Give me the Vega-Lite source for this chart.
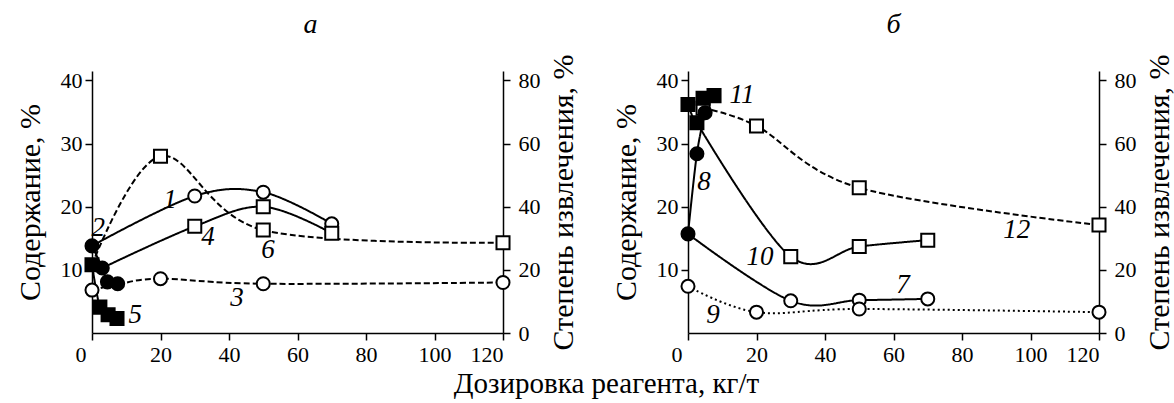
{
  "$schema": "https://vega.github.io/schema/vega-lite/v6.json",
  "padding": {"left": 15, "top": 10, "right": 0, "bottom": 0},
  "background": "white",
  "config": {
    "view": {"stroke": null},
    "font": "Liberation Serif",
    "axis": {"domainColor": "black", "domainWidth": 1.5, "tickColor": "black", "tickWidth": 1.5, "tickSize": 7, "labelColor": "black", "labelFont": "Liberation Serif", "labelFontSize": 22, "titleFont": "Liberation Serif", "titleFontSize": 30, "titleFontWeight": "normal", "titleColor": "black", "grid": false}
  },
  "title": {"text": "Дозировка реагента, кг/т", "orient": "bottom", "anchor": "middle", "font": "Liberation Serif", "fontSize": 29, "fontWeight": "normal", "color": "black", "offset": 5, "dx": 12},
  "datasets": {
    "curves": [
      {"panel": "а", "s": "1", "x": 0, "y": 13.8, "m": 0},
      {"panel": "а", "s": "1", "x": 30, "y": 21.7, "m": 1},
      {"panel": "а", "s": "1", "x": 50, "y": 22.3, "m": 1},
      {"panel": "а", "s": "1", "x": 70, "y": 17.3, "m": 1},
      {"panel": "а", "s": "3", "x": 0, "y": 6.8, "m": 1},
      {"panel": "а", "s": "3", "x": 7.5, "y": 7.7, "m": 0},
      {"panel": "а", "s": "3", "x": 20, "y": 8.6, "m": 1},
      {"panel": "а", "s": "3", "x": 50, "y": 7.8, "m": 1},
      {"panel": "а", "s": "3", "x": 120, "y": 8.0, "m": 1},
      {"panel": "а", "s": "4", "x": 3, "y": 10.3, "m": 0},
      {"panel": "а", "s": "4", "x": 30, "y": 16.9, "m": 1},
      {"panel": "а", "s": "4", "x": 50, "y": 20.0, "m": 1},
      {"panel": "а", "s": "4", "x": 70, "y": 15.8, "m": 1},
      {"panel": "а", "s": "6", "x": 0, "y": 10.8, "m": 0},
      {"panel": "а", "s": "6", "x": 20, "y": 28.0, "m": 1},
      {"panel": "а", "s": "6", "x": 50, "y": 16.3, "m": 1},
      {"panel": "а", "s": "6", "x": 120, "y": 14.3, "m": 1},
      {"panel": "а", "s": "2", "x": 0, "y": 13.8, "m": 1},
      {"panel": "а", "s": "2", "x": 3, "y": 10.3, "m": 1},
      {"panel": "а", "s": "2", "x": 4.5, "y": 8.1, "m": 1},
      {"panel": "а", "s": "2", "x": 7.5, "y": 7.8, "m": 1},
      {"panel": "а", "s": "5", "x": 0, "y": 10.8, "m": 1},
      {"panel": "а", "s": "5", "x": 2.3, "y": 4.1, "m": 1},
      {"panel": "а", "s": "5", "x": 4.7, "y": 2.9, "m": 1},
      {"panel": "а", "s": "5", "x": 7.3, "y": 2.3, "m": 1},
      {"panel": "б", "s": "7", "x": 0, "y": 15.7, "m": 0},
      {"panel": "б", "s": "7", "x": 30, "y": 5.1, "m": 1},
      {"panel": "б", "s": "7", "x": 50, "y": 5.2, "m": 1},
      {"panel": "б", "s": "7", "x": 70, "y": 5.4, "m": 1},
      {"panel": "б", "s": "9", "x": 0, "y": 7.4, "m": 1},
      {"panel": "б", "s": "9", "x": 20, "y": 3.3, "m": 1},
      {"panel": "б", "s": "9", "x": 50, "y": 3.8, "m": 1},
      {"panel": "б", "s": "9", "x": 120, "y": 3.3, "m": 1},
      {"panel": "б", "s": "10", "x": 2.6, "y": 33.3, "m": 0},
      {"panel": "б", "s": "10", "x": 30, "y": 12.1, "m": 1},
      {"panel": "б", "s": "10", "x": 50, "y": 13.7, "m": 1},
      {"panel": "б", "s": "10", "x": 70, "y": 14.7, "m": 1},
      {"panel": "б", "s": "12", "x": 4.4, "y": 35.6, "m": 1},
      {"panel": "б", "s": "12", "x": 20, "y": 32.8, "m": 1},
      {"panel": "б", "s": "12", "x": 50, "y": 23.0, "m": 1},
      {"panel": "б", "s": "12", "x": 120, "y": 17.1, "m": 1},
      {"panel": "б", "s": "8", "x": 0, "y": 15.7, "m": 1},
      {"panel": "б", "s": "8", "x": 2.6, "y": 28.4, "m": 1},
      {"panel": "б", "s": "8", "x": 5, "y": 34.9, "m": 1},
      {"panel": "б", "s": "11", "x": 0, "y": 36.2, "m": 1},
      {"panel": "б", "s": "11", "x": 2.6, "y": 33.3, "m": 1},
      {"panel": "б", "s": "11", "x": 4.4, "y": 37.2, "m": 1},
      {"panel": "б", "s": "11", "x": 7.6, "y": 37.6, "m": 1}
    ],
    "labels": [
      {"panel": "а", "lab": "1", "x": 22.8, "y": 21.1},
      {"panel": "а", "lab": "2", "x": 1.8, "y": 16.6},
      {"panel": "а", "lab": "4", "x": 33.9, "y": 15.2},
      {"panel": "а", "lab": "6", "x": 51.4, "y": 13.2},
      {"panel": "а", "lab": "3", "x": 42.3, "y": 5.5},
      {"panel": "а", "lab": "5", "x": 12.6, "y": 2.9},
      {"panel": "б", "lab": "11", "x": 15.8, "y": 37.7},
      {"panel": "б", "lab": "8", "x": 4.7, "y": 23.9},
      {"panel": "б", "lab": "10", "x": 21, "y": 12.0},
      {"panel": "б", "lab": "12", "x": 96, "y": 16.3},
      {"panel": "б", "lab": "7", "x": 62.8, "y": 7.6},
      {"panel": "б", "lab": "9", "x": 7.3, "y": 2.9}
    ]
  },
  "spacing": 33,
  "hconcat": [
    {
      "width": 411, "height": 262,
      "title": {"text": "а", "font": "Liberation Serif", "fontStyle": "italic", "fontSize": 28, "fontWeight": "normal", "color": "black", "offset": 15, "dx": 13},
      "layer": [
        {
          "layer": [
            {
              "data": {"name": "curves"},
              "transform": [{"filter": "datum.panel === 'а'"}],
              "mark": {"type": "line", "interpolate": "cardinal", "color": "black", "strokeWidth": 2, "clip": false},
              "encoding": {
                "x": {"field": "x", "type": "quantitative", "scale": {"domain": [0, 120], "nice": false, "zero": false}, "axis": {"title": null, "values": [0, 20, 40, 60, 80, 100, 120], "labelPadding": 4, "labelOffset": {"condition": {"test": "datum.value === 0", "value": -17}, "value": 0}}},
                "y": {"field": "y", "type": "quantitative", "scale": {"domain": [0, 41.5], "nice": false}, "axis": {"title": "Содержание, %", "values": [10, 20, 30, 40], "labelPadding": 3, "titlePadding": 15}},
                "detail": {"field": "s"},
                "strokeDash": {"field": "s", "type": "nominal", "legend": null, "scale": {"domain": ["1", "2", "3", "4", "5", "6", "7", "8", "9", "10", "11", "12"], "range": [[1, 0], [1, 0], [6, 3], [1, 0], [1, 0], [6, 3], [1, 0], [1, 0], [2, 3], [1, 0], [1, 0], [6, 3]]}}
              }
            },
            {
              "data": {"name": "curves"},
              "transform": [{"filter": "datum.panel === 'а' && datum.m === 1"}],
              "mark": {"type": "point", "filled": true, "stroke": "black", "strokeWidth": 2, "size": 170, "opacity": 1, "clip": false},
              "encoding": {
                "x": {"field": "x", "type": "quantitative"},
                "y": {"field": "y", "type": "quantitative"},
                "shape": {"field": "s", "type": "nominal", "legend": null, "scale": {"domain": ["1", "2", "3", "4", "5", "6", "7", "8", "9", "10", "11", "12"], "range": ["circle", "circle", "circle", "square", "square", "square", "circle", "circle", "circle", "square", "square", "square"]}},
                "fill": {"field": "s", "type": "nominal", "legend": null, "scale": {"domain": ["1", "2", "3", "4", "5", "6", "7", "8", "9", "10", "11", "12"], "range": ["white", "black", "white", "white", "black", "white", "white", "black", "white", "white", "black", "white"]}}
              }
            },
            {
              "data": {"name": "labels"},
              "transform": [{"filter": "datum.panel === 'а'"}],
              "mark": {"type": "text", "font": "Liberation Serif", "fontStyle": "italic", "fontSize": 27, "color": "black", "align": "center", "baseline": "middle"},
              "encoding": {
                "x": {"field": "x", "type": "quantitative"},
                "y": {"field": "y", "type": "quantitative"},
                "text": {"field": "lab"}
              }
            }
          ]
        },
        {
          "mark": {"type": "rule", "opacity": 0},
          "encoding": {
            "y": {"datum": 0, "type": "quantitative", "scale": {"domain": [0, 83], "nice": false}, "axis": {"orient": "right", "title": "Степень извлечения, %", "values": [0, 20, 40, 60, 80], "labelPadding": 8, "titlePadding": 8, "titleAngle": 270, "titleBaseline": "top"}}
          }
        }
      ],
      "resolve": {"scale": {"y": "independent"}}
    },
    {
      "width": 411, "height": 262,
      "title": {"text": "б", "font": "Liberation Serif", "fontStyle": "italic", "fontSize": 28, "fontWeight": "normal", "color": "black", "offset": 15},
      "layer": [
        {
          "layer": [
            {
              "data": {"name": "curves"},
              "transform": [{"filter": "datum.panel === 'б'"}],
              "mark": {"type": "line", "interpolate": "cardinal", "color": "black", "strokeWidth": 2, "clip": false},
              "encoding": {
                "x": {"field": "x", "type": "quantitative", "scale": {"domain": [0, 120], "nice": false, "zero": false}, "axis": {"title": null, "values": [0, 20, 40, 60, 80, 100, 120], "labelPadding": 4, "labelOffset": {"condition": {"test": "datum.value === 0", "value": -17}, "value": 0}}},
                "y": {"field": "y", "type": "quantitative", "scale": {"domain": [0, 41.5], "nice": false}, "axis": {"title": "Содержание, %", "values": [10, 20, 30, 40], "labelPadding": 3, "titlePadding": 15}},
                "detail": {"field": "s"},
                "strokeDash": {"field": "s", "type": "nominal", "legend": null, "scale": {"domain": ["1", "2", "3", "4", "5", "6", "7", "8", "9", "10", "11", "12"], "range": [[1, 0], [1, 0], [6, 3], [1, 0], [1, 0], [6, 3], [1, 0], [1, 0], [2, 3], [1, 0], [1, 0], [6, 3]]}}
              }
            },
            {
              "data": {"name": "curves"},
              "transform": [{"filter": "datum.panel === 'б' && datum.m === 1"}],
              "mark": {"type": "point", "filled": true, "stroke": "black", "strokeWidth": 2, "size": 170, "opacity": 1, "clip": false},
              "encoding": {
                "x": {"field": "x", "type": "quantitative"},
                "y": {"field": "y", "type": "quantitative"},
                "shape": {"field": "s", "type": "nominal", "legend": null, "scale": {"domain": ["1", "2", "3", "4", "5", "6", "7", "8", "9", "10", "11", "12"], "range": ["circle", "circle", "circle", "square", "square", "square", "circle", "circle", "circle", "square", "square", "square"]}},
                "fill": {"field": "s", "type": "nominal", "legend": null, "scale": {"domain": ["1", "2", "3", "4", "5", "6", "7", "8", "9", "10", "11", "12"], "range": ["white", "black", "white", "white", "black", "white", "white", "black", "white", "white", "black", "white"]}}
              }
            },
            {
              "data": {"name": "labels"},
              "transform": [{"filter": "datum.panel === 'б'"}],
              "mark": {"type": "text", "font": "Liberation Serif", "fontStyle": "italic", "fontSize": 27, "color": "black", "align": "center", "baseline": "middle"},
              "encoding": {
                "x": {"field": "x", "type": "quantitative"},
                "y": {"field": "y", "type": "quantitative"},
                "text": {"field": "lab"}
              }
            }
          ]
        },
        {
          "mark": {"type": "rule", "opacity": 0},
          "encoding": {
            "y": {"datum": 0, "type": "quantitative", "scale": {"domain": [0, 83], "nice": false}, "axis": {"orient": "right", "title": "Степень извлечения, %", "values": [0, 20, 40, 60, 80], "labelPadding": 8, "titlePadding": 8, "titleAngle": 270, "titleBaseline": "top"}}
          }
        }
      ],
      "resolve": {"scale": {"y": "independent"}}
    }
  ]
}
